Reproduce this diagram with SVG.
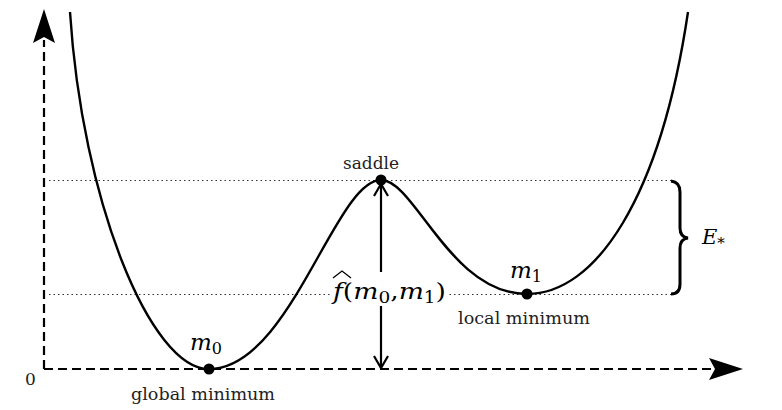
<svg xmlns="http://www.w3.org/2000/svg" width="782" height="410" viewBox="0 0 782 410">
<style>
.axis{stroke:#000;stroke-width:2.2;fill:none;stroke-dasharray:9 5}
.dot{stroke:#333;stroke-width:1.1;fill:none;stroke-dasharray:1.5 3}
.curve{stroke:#000;stroke-width:2.4;fill:none}
.pt{fill:#000}
text{font-family:"DejaVu Serif","Liberation Serif",serif}
.it{font-style:italic}
.up{font-style:normal}
</style>
<g id="axes">
<path class="axis" d="M44,369 V40"/>
<path class="axis" d="M44,369 H715"/>
<path d="M44,9 L55,43 L44,37 L33,43 Z" fill="#000"/>
<path d="M743,369 L709,358 L715,369 L709,380 Z" fill="#000"/>
<text x="25" y="385" font-size="17" fill="#222">0</text>
</g>
<g id="levels">
<path class="dot" d="M49,180.5 H672"/>
<path class="dot" d="M49,294.5 H672"/>
</g>
<g id="curve">
<path class="curve" d="M70,12 C82,200 150,369 209,369 C290,369 335,180 381,180 C415,180 450,294 527,294 C595,294 660,200 688,12"/>
</g>
<g id="connectors">
<path d="M381,183 V369" stroke="#000" stroke-width="2.2" fill="none"/>
<path d="M374,196 L381,184 L388,196" stroke="#000" stroke-width="2.2" fill="none"/>
<path d="M374,356 L381,368 L388,356" stroke="#000" stroke-width="2.2" fill="none"/>
</g>
<g id="fhat">
<rect x="330" y="272" width="118" height="34" fill="#fff"/>
<text class="it" x="333" y="299" font-size="23" textLength="113" lengthAdjust="spacingAndGlyphs">f<tspan class="up">(</tspan>m<tspan class="up" font-size="16" dy="4">0</tspan><tspan class="up" dy="-4">,</tspan>m<tspan class="up" font-size="16" dy="4">1</tspan><tspan class="up" dy="-4">)</tspan></text>
<path d="M333,278 L342,271 L351,278" stroke="#000" stroke-width="1.3" fill="none"/>
</g>
<g id="m0">
<circle class="pt" cx="209" cy="369" r="5.5"/>
<text class="it" x="190" y="350" font-size="23">m<tspan class="up" font-size="16" dy="4">0</tspan></text>
<text x="203" y="400" font-size="16" fill="#222" text-anchor="middle" textLength="144" lengthAdjust="spacingAndGlyphs">global minimum</text>
</g>
<g id="saddle">
<circle class="pt" cx="381" cy="180" r="5.5"/>
<text x="371" y="169" font-size="17" fill="#222" text-anchor="middle" textLength="56" lengthAdjust="spacingAndGlyphs">saddle</text>
</g>
<g id="m1">
<circle class="pt" cx="527" cy="294" r="5.5"/>
<text class="it" x="510" y="278" font-size="23">m<tspan class="up" font-size="16" dy="4">1</tspan></text>
<text x="524" y="324" font-size="16" fill="#222" text-anchor="middle" textLength="132" lengthAdjust="spacingAndGlyphs">local minimum</text>
</g>
<g id="Estar">
<path d="M671,181 Q680,182 680,192 V228 Q680,237 688,238 Q680,239 680,248 V284 Q680,294 671,294" stroke="#000" stroke-width="3" fill="none"/>
<text class="it" x="702" y="244" font-size="21">E<tspan class="up" font-size="15" dy="4">*</tspan></text>
</g>
</svg>
